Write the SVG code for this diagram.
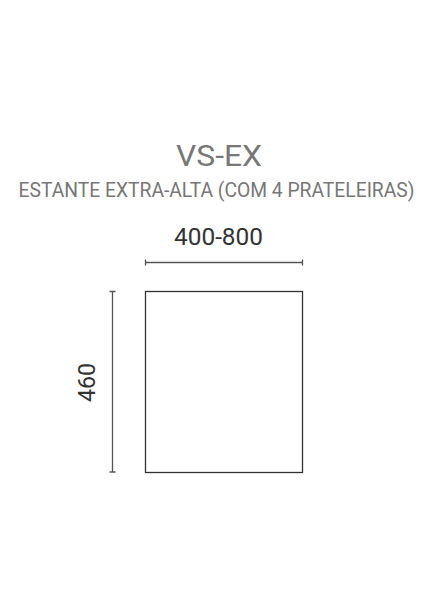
<svg xmlns="http://www.w3.org/2000/svg" width="438" height="615" viewBox="0 0 438 615">
<style>
.t{font-family:Roboto,"Liberation Sans",sans-serif;text-anchor:middle}
.dim{stroke:#555;stroke-width:1.3;fill:none}
</style>
<rect width="438" height="615" fill="#fff"/>
<g id="title">
<text class="t" x="219" y="166" font-size="29" fill="#777" textLength="86" lengthAdjust="spacingAndGlyphs">VS-EX</text>
<text class="t" x="216.5" y="197" font-size="20" fill="#777" textLength="396" lengthAdjust="spacingAndGlyphs">ESTANTE EXTRA-ALTA (COM 4 PRATELEIRAS)</text>
</g>
<g id="shelf">
<rect x="145.5" y="291.5" width="157" height="181" fill="#fff" stroke="#333" stroke-width="1.3"/>
</g>
<g id="connectors">
<path class="dim" d="M145.5 262.5H302.5M145.5 259.5V265.5M302.5 259.5V265.5"/>
<path class="dim" d="M112.5 291.5V472M109.5 291.5H115.5M109.5 472H115.5"/>
</g>
<g id="labels">
<text class="t" x="218.5" y="245" font-size="23" fill="#333" textLength="89" lengthAdjust="spacingAndGlyphs">400-800</text>
<text class="t" transform="translate(95 382.5) rotate(-90)" font-size="23" fill="#333" textLength="39" lengthAdjust="spacingAndGlyphs">460</text>
</g>
</svg>
